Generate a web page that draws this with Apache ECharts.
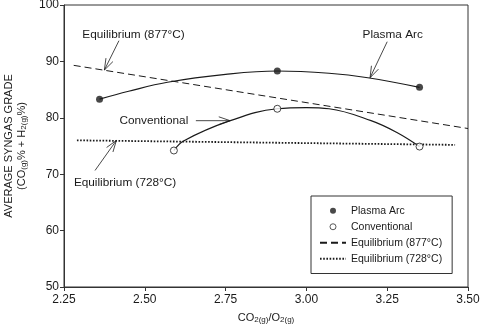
<!DOCTYPE html>
<html>
<head>
<meta charset="utf-8">
<script src="https://cdn.jsdelivr.net/npm/echarts@6/dist/echarts.min.js"></script>
<style>
  html, body { margin: 0; padding: 0; background: #fff; }
  #chart { width: 481px; height: 326px; }
</style>
</head>
<body>
<div id="chart"></div>
<script>
// measured points (x = CO2/O2 ratio, y = syngas grade %)
var plasmaPts = [[2.36, 83.3], [2.91, 88.3], [3.35, 85.4]];
var convPts = [[2.59, 74.2], [2.91, 81.6], [3.35, 74.9]];

// fitted curves
var plasmaCurve = [[2.36, 83.3], [2.45, 84.7], [2.57, 86.3], [2.75, 87.7], [2.91, 88.3],
    [3.07, 87.9], [3.19, 87.1], [3.35, 85.4]];
var convCurve = [[2.59, 74.2], [2.62, 75.9], [2.76, 79.4], [2.91, 81.6], [3.0, 81.8],
    [3.07, 81.6], [3.2, 79.5], [3.28, 77.4], [3.35, 74.9]];

// equilibrium lines
var eq877 = [[2.28, 89.3], [3.5, 78.1]];
var eq728 = [[2.29, 76.0], [3.46, 75.2]];

// callouts: label, text centre, arrow tail, arrow tip (data coords)
var notes = [
    { text: 'Equilibrium (877°C)', at: [2.465, 94.8], from: [2.42, 93.67], tip: [2.375, 88.47] },
    { text: 'Plasma Arc', at: [3.267, 94.68], from: [3.25, 93.49], tip: [3.197, 87.11] },
    { text: 'Conventional', at: [2.528, 79.49], from: [2.658, 79.49], tip: [2.764, 79.49] },
    { text: 'Equilibrium (728°C)', at: [2.439, 68.56], from: [2.346, 70.66], tip: [2.412, 75.98] }
];

var font = '"Liberation Sans", Arial, Helvetica, sans-serif';
var ink = '#1a1a1a';

var chart = echarts.init(document.getElementById('chart'), null, { renderer: 'canvas' });

var subStyle = { fontSize: 8, fontFamily: font, color: ink, verticalAlign: 'bottom', padding: [4, 0, 0, 0] };

var option = {
    animation: false,
    textStyle: { fontFamily: font, color: ink },
    grid: {
        left: 64, right: 13, top: 5, bottom: 39,
        containLabel: false, outerBoundsMode: 'none',
        show: true, borderColor: '#333', borderWidth: 1
    },
    legend: {
        orient: 'vertical',
        left: 311, top: 196,
        width: 141,
        padding: [8, 10, 8, 8],
        borderColor: '#333', borderWidth: 1,
        itemWidth: 26, itemHeight: 6, itemGap: 2.5,
        textStyle: { fontSize: 10.5, fontFamily: font, color: ink, lineHeight: 13.5 },
        data: [
            'Plasma Arc',
            { name: 'Conventional', itemStyle: { borderWidth: 0.9 } },
            'Equilibrium (877°C)',
            'Equilibrium (728°C)'
        ]
    },
    xAxis: {
        type: 'value', min: 2.25, max: 3.5, interval: 0.25,
        axisLine: { lineStyle: { color: '#333' } },
        axisTick: { length: 4, lineStyle: { color: '#333' } },
        axisLabel: { fontSize: 12, color: ink, margin: 7, formatter: function (v) { return v.toFixed(2); } },
        splitLine: { show: false },
        name: 'CO{s|2(g)}/O{s|2(g)}',
        nameLocation: 'middle', nameGap: 25,
        nameTextStyle: { fontSize: 11, color: ink, rich: { s: subStyle } }
    },
    yAxis: {
        type: 'value', min: 50, max: 100, interval: 10,
        axisLine: { show: true, lineStyle: { color: '#333' } },
        axisTick: { show: true, length: 4, lineStyle: { color: '#333' } },
        axisLabel: { fontSize: 12, color: ink, margin: 5 },
        splitLine: { show: false },
        name: 'AVERAGE SYNGAS GRADE\n(CO{s|(g)}% + H{s|2(g)}%)',
        nameLocation: 'middle', nameRotate: 90, nameGap: 34,
        nameTextStyle: { fontSize: 11, color: ink, lineHeight: 13, rich: { s: subStyle } }
    },
    series: [{
        name: 'Plasma Arc', type: 'scatter', data: plasmaPts, symbolSize: 7,
        itemStyle: { color: ink }, z: 5
    }, {
        name: 'Conventional', type: 'scatter', data: convPts, symbolSize: 7,
        itemStyle: { color: '#fff', borderColor: ink, borderWidth: 1 }, z: 5
    }, {
        name: 'Equilibrium (877°C)', type: 'line', data: eq877, symbol: 'none',
        itemStyle: { color: ink, opacity: 0 },
        lineStyle: { color: ink, width: 1, type: [7, 4] }
    }, {
        name: 'Equilibrium (728°C)', type: 'line', data: eq728, symbol: 'none',
        itemStyle: { color: ink, opacity: 0 },
        lineStyle: { color: ink, width: 1.8, type: [1.6, 1.6] }
    }, {
        name: 'plasmaFit', type: 'line', data: plasmaCurve, symbol: 'none', smooth: 0.4,
        lineStyle: { color: ink, width: 1.2 }
    }, {
        name: 'convFit', type: 'line', data: convCurve, symbol: 'none', smooth: 0.4,
        lineStyle: { color: ink, width: 1.2 }
    }]
};

chart.setOption(option);

// draw the callout labels and open arrows
function arrowHead(tip, tail) {
    var dx = tail[0] - tip[0], dy = tail[1] - tip[1];
    var len = Math.sqrt(dx * dx + dy * dy);
    var ux = dx / len, uy = dy / len;
    var a = 0.33, L = 12;
    function rot(s) {
        var c = Math.cos(s * a), n = Math.sin(s * a);
        return [tip[0] + L * (ux * c - uy * n), tip[1] + L * (ux * n + uy * c)];
    }
    return [rot(1), tip, rot(-1)];
}

var elems = [];
notes.forEach(function (n) {
    var p = chart.convertToPixel({ gridIndex: 0 }, n.at);
    var f = chart.convertToPixel({ gridIndex: 0 }, n.from);
    var t = chart.convertToPixel({ gridIndex: 0 }, n.tip);
    elems.push({
        type: 'text', x: p[0], y: p[1],
        style: { text: n.text, fill: ink, font: '11.8px ' + font, align: 'center', verticalAlign: 'middle' }
    });
    elems.push({
        type: 'polyline', shape: { points: [f, t] },
        style: { stroke: ink, lineWidth: 0.8, fill: null }
    });
    elems.push({
        type: 'polyline', shape: { points: arrowHead(t, f) },
        style: { stroke: ink, lineWidth: 0.8, fill: null }
    });
});
chart.setOption({ graphic: elems });
</script>
</body>
</html>
